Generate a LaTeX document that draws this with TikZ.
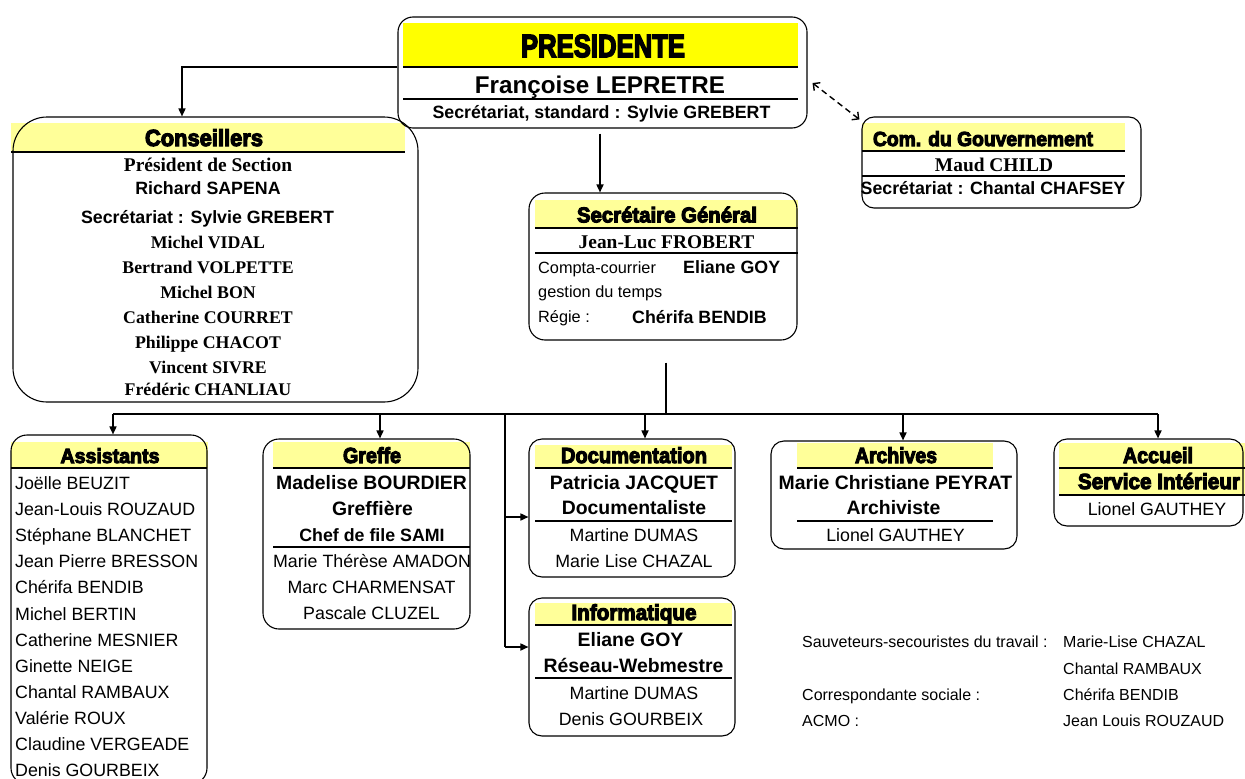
\documentclass[tikz,border=0pt]{standalone}
\usepackage{graphicx}
\usepackage{fontspec}
\setmainfont{Liberation Sans}
\newfontfamily\serifb{Liberation Serif}
\newfontfamily\hfont[FakeBold=5]{Liberation Sans}
\usetikzlibrary{arrows.meta}
\definecolor{ylw}{HTML}{FFFF00}
\definecolor{lylw}{HTML}{FFFF99}
\newcommand\hdg[3]{\resizebox{#1pt}{#2pt}{\hfont\bfseries\smash{#3}\vphantom{X}}}
\begin{document}
\begin{tikzpicture}[x=1pt,y=-1pt,
  box/.style={draw=black, line width=1.1pt, rounded corners=#1, inner sep=0pt},
  box/.default=14pt,
  sepline/.style={line width=1.8pt},
  conn/.style={line width=1.6pt},
  arr/.style={conn, -{Triangle[length=8pt,width=7pt]}},
  darr/.style={line width=1.4pt, dash pattern=on 6pt off 4pt, {Straight Barb[length=5pt,width=10pt]}-{Straight Barb[length=5pt,width=10pt]}},
  hd/.style={inner sep=0pt},
  tRg/.style={inner sep=0pt, anchor=base, yshift=-6.4pt, font=\fontsize{17.8}{20}\selectfont},
  tRs/.style={inner sep=0pt, anchor=base, yshift=-5.8pt, font=\fontsize{16.3}{19}\selectfont},
  tRb/.style={inner sep=0pt, anchor=base, yshift=-5.7pt, font=\fontsize{16}{19}\selectfont},
  tBd/.style={inner sep=0pt, anchor=base, yshift=-6.4pt, font=\fontsize{17.8}{20}\selectfont\bfseries},
  tBl/.style={inner sep=0pt, anchor=base, yshift=-6.9pt, font=\fontsize{19.4}{22}\selectfont\bfseries},
  tBf/.style={inner sep=0pt, anchor=base, yshift=-8.7pt, font=\fontsize{24.2}{27}\selectfont\bfseries},
  tSf/.style={inner sep=0pt, anchor=base, yshift=-5.9pt, font=\fontsize{17.8}{20}\selectfont\serifb\bfseries},
  tSl/.style={inner sep=0pt, anchor=base, yshift=-6.4pt, font=\fontsize{19.4}{22}\selectfont\serifb\bfseries},
]
\useasboundingbox (0,0) rectangle (1245,779);

% yellow bands
\fill[ylw] (403,23) rectangle (798,67);
\fill[lylw] (11,123) rectangle (405,152);
\fill[lylw] (862,123) rectangle (1125,151);
\fill[lylw] (535,200) rectangle (798,228);
\fill[lylw] (11,442) rectangle (208,468);
\fill[lylw] (273,442) rectangle (470,468);
\fill[lylw] (535,445) rectangle (732,468);
\fill[lylw] (535,603) rectangle (732,625);
\fill[lylw] (797,443) rectangle (993,468);
\fill[lylw] (1059,443) rectangle (1245,494);

% boxes
\node[box=15pt, minimum width=409pt, minimum height=111pt] (pres) at (602.5,72.5) {};
\node[box=34pt, minimum width=405pt, minimum height=285pt] (cons) at (215.5,259.5) {};
\node[box=12pt, minimum width=279pt, minimum height=91pt] (com) at (1001.5,162.5) {};
\node[box=16pt, minimum width=268pt, minimum height=147pt] (sg) at (663,266.5) {};
\node[box=16pt, minimum width=196pt, minimum height=349pt] (asst) at (109,609.5) {};
\node[box=16pt, minimum width=207pt, minimum height=190pt] (greffe) at (366.5,534) {};
\node[box=13pt, minimum width=206pt, minimum height=138pt] (doc) at (632,508) {};
\node[box=13pt, minimum width=206pt, minimum height=138pt] (info) at (632,667) {};
\node[box=13pt, minimum width=246pt, minimum height=108pt] (arch) at (894,495) {};
\node[box=13pt, minimum width=189pt, minimum height=87pt] (acc) at (1148.5,482.5) {};

% separator lines
\draw[sepline] (403,67) -- (798,67);
\draw[sepline] (403,99) -- (798,99);
\draw[sepline] (11,152) -- (405,152);
\draw[sepline] (862,151) -- (1125,151);
\draw[sepline] (862,176) -- (1125,176);
\draw[sepline] (535,228) -- (798,228);
\draw[sepline] (535,253) -- (798,253);
\draw[sepline] (11,468) -- (207,468);
\draw[sepline] (273,468) -- (470,468);
\draw[sepline] (273,547) -- (470,547);
\draw[sepline] (535,468) -- (732,468);
\draw[sepline] (535,521) -- (732,521);
\draw[sepline] (535,625) -- (732,625);
\draw[sepline] (535,678) -- (732,678);
\draw[sepline] (797,468) -- (993,468);
\draw[sepline] (797,521) -- (993,521);
\draw[sepline] (1059,468) -- (1245,468);
\draw[sepline] (1059,495) -- (1245,495);

% headings
\node[hd] (hPres) at (603,46) {\hdg{164}{22}{PRESIDENTE}};
\node[hd] (hCons) at (204,138) {\hdg{118}{16}{Conseillers}};
\node[hd] (hCom) at (983,139) {\hdg{220}{14}{Com. du Gouvernement}};
\node[hd] (hSg) at (667,215) {\hdg{180}{14.7}{Secrétaire Général}};
\node[hd] (hAsst) at (110,456) {\hdg{99}{14}{Assistants}};
\node[hd] (hGreffe) at (372,455.5) {\hdg{58}{15}{Greffe}};
\node[hd] (hDoc) at (634,455.5) {\hdg{146}{15}{Documentation}};
\node[hd] (hInfo) at (634,612.5) {\hdg{125}{15}{Informatique}};
\node[hd] (hArch) at (896,455.5) {\hdg{82}{15}{Archives}};
\node[hd] (hAcc) at (1158,455.5) {\hdg{70}{15}{Accueil}};
\node[hd] (hSi) at (1159,481.5) {\hdg{162}{15}{Service Intérieur}};

% president texts
\node[tBf] (pName) at (600,85) {Françoise LEPRETRE};
\node[tBd] (pSec) at (601.5,112) {Secrétariat, standard : Sylvie GREBERT};

% conseillers
\node[tSl] (c1) at (208,165) {Président de Section};
\node[tBd] (c2) at (208,188.3) {Richard SAPENA};
\node[tBd] (c3) at (207.5,216.7) {Secrétariat : Sylvie GREBERT};
\node[tSf] (c4) at (208,242.5) {Michel VIDAL};
\node[tSf] (c5) at (208,267.5) {Bertrand VOLPETTE};
\node[tSf] (c6) at (208,292.5) {Michel BON};
\node[tSf] (c7) at (208,317.5) {Catherine COURRET};
\node[tSf] (c8) at (208,343) {Philippe CHACOT};
\node[tSf] (c9) at (208,368) {Vincent SIVRE};
\node[tSf] (c10) at (208,389.7) {Frédéric CHANLIAU};

% commissaire
\node[tSl] (m1) at (994,165) {Maud CHILD};
\node[tBd] (m2) at (993,188) {Secrétariat : Chantal CHAFSEY};

% secretaire general
\node[tSl] (s1) at (666.5,242) {Jean-Luc FROBERT};
\node[tRs, anchor=base west] (s2) at (538,267.5) {Compta-courrier};
\node[tBd, anchor=base west] (s3) at (683,267.5) {Eliane GOY};
\node[tRs, anchor=base west] (s4) at (538,292) {gestion du temps};
\node[tRs, anchor=base west] (s5) at (538,317) {Régie :};
\node[tBd, anchor=base west] (s6) at (632,317) {Chérifa BENDIB};

% assistants
\foreach \nm [count=\i from 0] in {Joëlle BEUZIT, Jean-Louis ROUZAUD, Stéphane BLANCHET, Jean Pierre BRESSON, Chérifa BENDIB, Michel BERTIN, Catherine MESNIER, Ginette NEIGE, Chantal RAMBAUX, Valérie ROUX, Claudine VERGEADE, Denis GOURBEIX}
  \node[tRg, anchor=base west] (a\i) at (15,483.3+26.07*\i) {\nm};

% greffe
\node[tBl] (g1) at (371.5,482.2) {Madelise BOURDIER};
\node[tBl] (g2) at (372.5,508.3) {Greffière};
\node[tBd] (g3) at (372,535) {Chef de file SAMI};
\node[tRg] (g4) at (372,560.8) {Marie Thérèse AMADON};
\node[tRg] (g5) at (371.5,587.5) {Marc CHARMENSAT};
\node[tRg] (g6) at (371.5,613) {Pascale CLUZEL};

% documentation
\node[tBl] (d1) at (634,482.2) {Patricia JACQUET};
\node[tBl] (d2) at (634,507.8) {Documentaliste};
\node[tRg] (d3) at (634,535.2) {Martine DUMAS};
\node[tRg] (d4) at (634,560.8) {Marie Lise CHAZAL};

% informatique
\node[tBl] (i1) at (630.5,639.5) {Eliane GOY};
\node[tBl] (i2) at (633.5,665.5) {Réseau-Webmestre};
\node[tRg] (i3) at (634,693.2) {Martine DUMAS};
\node[tRg] (i4) at (631,718.8) {Denis GOURBEIX};

% archives
\node[tBl] (r1) at (895.5,482.2) {Marie Christiane PEYRAT};
\node[tBl] (r2) at (893.5,507.8) {Archiviste};
\node[tRg] (r3) at (895.5,535.2) {Lionel GAUTHEY};

% accueil
\node[tRg] (k1) at (1157,508.8) {Lionel GAUTHEY};

% bottom right
\node[tRb, anchor=base west] (b1) at (802,642.2) {Sauveteurs-secouristes du travail :};
\node[tRb, anchor=base west] (b2) at (1063,642.2) {Marie-Lise CHAZAL};
\node[tRb, anchor=base west] (b3) at (1063,668.8) {Chantal RAMBAUX};
\node[tRb, anchor=base west] (b4) at (802,694.5) {Correspondante sociale :};
\node[tRb, anchor=base west] (b5) at (1063,694.5) {Chérifa BENDIB};
\node[tRb, anchor=base west] (b6) at (802,721.2) {ACMO :};
\node[tRb, anchor=base west] (b7) at (1063,721.2) {Jean Louis ROUZAUD};

% connectors
\coordinate (jc) at (182,67);
\draw[arr] (pres.west |- jc) -| (jc |- cons.north);
\coordinate (jp) at ([xshift=-2.5pt]pres.south);
\draw[arr] ([yshift=-5pt]jp) -- (jp |- sg.north);
\draw[darr] ([xshift=5pt,yshift=-10.5pt]pres.east) -- ([xshift=-2pt,yshift=-3pt]com.north west);

\coordinate (bj) at ([xshift=3pt,yshift=-22pt]sg.south);
\coordinate (bus) at (666,414);
\draw[conn] (bj) -- (bj |- bus);
\coordinate (bl) at (113,414);
\coordinate (br) at (1158,414);
\draw[conn] (bl) -- (br);
\draw[arr] (bl) -- (bl |- asst.north);
\coordinate (gx) at ([xshift=13.5pt]greffe.north);
\draw[arr] (gx |- bus) -- (gx);
\coordinate (dx) at ([xshift=13pt]doc.north);
\draw[arr] (dx |- bus) -- (dx);
\coordinate (ax) at ([xshift=9pt]arch.north);
\draw[arr] (ax |- bus) -- (ax);
\draw[arr] (br) -- (br |- acc.north);
\coordinate (jn) at (505,414);
\coordinate (da) at ([yshift=-9pt]doc.west);
\coordinate (ia) at ([yshift=20pt]info.west);
\draw[conn] (jn) -- (jn |- ia);
\draw[arr] (jn |- da) -- (da);
\draw[arr] (jn |- ia) -- (ia);
\end{tikzpicture}
\end{document}
